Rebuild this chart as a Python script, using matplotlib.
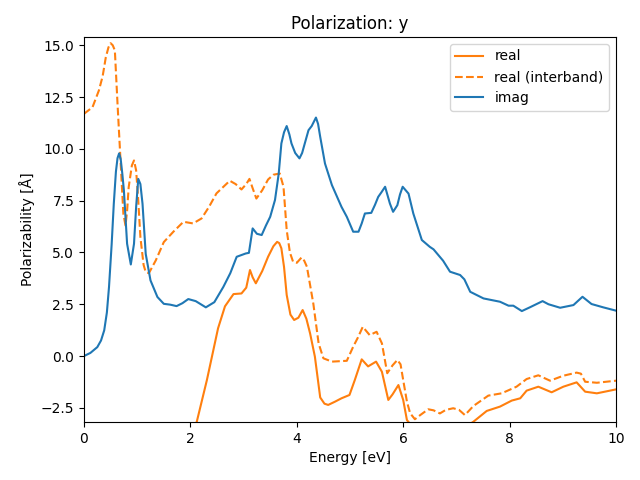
import matplotlib
matplotlib.use('Agg')
import matplotlib.pyplot as plt

# imaginary part
x_imag = [0, 0.12, 0.25, 0.32, 0.38, 0.43, 0.47, 0.52, 0.56, 0.60, 0.63, 0.66, 0.69, 0.72, 0.75,
          0.81, 0.88, 0.94, 0.98, 1.02, 1.06,
          1.10, 1.16, 1.25, 1.38, 1.50, 1.62, 1.74, 1.85, 1.96, 2.10, 2.29, 2.45, 2.62, 2.75, 2.87,
          3.04, 3.10, 3.17, 3.25, 3.34, 3.42, 3.50, 3.59, 3.66, 3.71, 3.76, 3.81, 3.86, 3.90, 3.97,
          4.05, 4.10, 4.15, 4.22, 4.28, 4.36, 4.40, 4.44, 4.53, 4.66, 4.84, 4.94, 5.06, 5.16, 5.22,
          5.28, 5.40, 5.47, 5.53, 5.59, 5.66, 5.75, 5.81, 5.89, 5.94, 5.99, 6.10, 6.19, 6.35, 6.50,
          6.57, 6.75, 6.88, 7.07, 7.15, 7.26, 7.51, 7.82, 7.98, 8.07, 8.23, 8.38, 8.62, 8.73, 8.95,
          9.20, 9.37, 9.54, 9.76, 10.0]
y_imag = [0, 0.15, 0.43, 0.75, 1.24, 2.1, 3.33, 5.4, 7.35, 8.9, 9.55, 9.78, 9.5, 8.8, 7.99,
          5.42, 4.42, 5.42, 7.2, 8.55, 8.3,
          7.35, 4.93, 3.65, 2.85, 2.52, 2.48, 2.41, 2.55, 2.75, 2.65, 2.35, 2.6, 3.34, 4.0, 4.79,
          4.95, 4.98, 6.16, 5.9, 5.84, 6.3, 6.72, 7.53, 8.8, 10.26, 10.8, 11.1, 10.7, 10.26, 9.8,
          9.54, 9.8, 10.26, 10.9, 11.1, 11.51, 11.2, 10.58, 9.29, 8.25, 7.2, 6.72, 6.0, 6.0, 6.4,
          6.88, 6.91, 7.3, 7.68, 7.9, 8.17, 7.36, 6.96, 7.28, 7.8, 8.17, 7.84, 6.88, 5.6, 5.27,
          5.15, 4.6, 4.07, 3.91, 3.7, 3.1, 2.78, 2.62, 2.43, 2.43, 2.17, 2.35, 2.65, 2.5, 2.33,
          2.46, 2.86, 2.51, 2.35, 2.19]

# real part (interband)
x_inter = [0, 0.16, 0.28, 0.35, 0.41, 0.46, 0.50, 0.54, 0.58, 0.63, 0.68, 0.74, 0.78, 0.81, 0.84,
           0.90, 0.94, 0.98, 1.02, 1.06, 1.12, 1.16, 1.22, 1.35, 1.50, 1.68, 1.87, 2.05, 2.21, 2.35,
           2.49, 2.74, 2.85, 2.96, 3.05, 3.11, 3.17, 3.24, 3.35, 3.46, 3.56, 3.68, 3.75, 3.81, 3.87,
           3.93, 4.0, 4.09, 4.14, 4.19, 4.31, 4.41, 4.50, 4.66, 4.94, 5.06, 5.15, 5.24, 5.37, 5.50,
           5.60, 5.70, 5.80, 5.89, 5.95, 6.0, 6.07, 6.13, 6.22, 6.32, 6.47, 6.57, 6.69, 6.80, 6.94,
           7.05, 7.16, 7.32, 7.60, 7.85, 8.13, 8.32, 8.54, 8.76, 9.01, 9.26, 9.34, 9.42, 9.64, 10.0]
y_inter = [11.69, 12.01, 12.82, 13.5, 14.42, 14.9, 15.1, 15.0, 14.75, 12.18, 9.76, 6.86, 6.30, 7.0, 8.15,
           9.2, 9.44, 8.96, 7.5, 5.74, 4.4, 4.05, 4.0, 4.62, 5.5, 6.0, 6.48, 6.4, 6.64, 7.2,
           7.85, 8.46, 8.3, 8.04, 8.3, 8.55, 8.1, 7.6, 8.0, 8.52, 8.75, 8.81, 8.17, 6.08, 5.0,
           4.55, 4.5, 4.76, 4.6, 4.31, 2.54, 0.61, -0.11, -0.27, -0.23, 0.45, 0.9, 1.41, 1.01, 1.17,
           0.61, -0.83, -0.45, -0.19, -0.4, -1.16, -2.2, -2.76, -3.05, -2.85, -2.57, -2.62, -2.77, -2.6, -2.52,
           -2.6, -2.85, -2.41, -1.91, -1.8, -1.48, -1.11, -0.93, -1.19, -0.95, -0.80, -0.85, -1.24, -1.29, -1.19]

# real part (full)
x_real = [0.05, 0.5, 1.0, 1.5, 1.9, 2.12, 2.31, 2.52, 2.65, 2.81, 2.96, 3.05, 3.12, 3.17, 3.23,
          3.35, 3.46, 3.56, 3.63, 3.67, 3.71, 3.76, 3.81, 3.88, 3.95, 4.03, 4.11, 4.18, 4.25, 4.34,
          4.44, 4.52, 4.59, 4.72, 4.84, 4.99, 5.09, 5.22, 5.34, 5.49, 5.60, 5.72, 5.80, 5.91, 6.0,
          6.07, 6.3, 6.7, 7.0, 7.32, 7.57, 7.82, 8.04, 8.20, 8.32, 8.54, 8.79, 9.01, 9.26, 9.42,
          9.64, 10.0]
y_real = [-40, -20, -12, -7, -4.5, -3.17, -1.16, 1.34, 2.4, 2.99, 3.02, 3.3, 4.15, 3.8, 3.51,
          4.1, 4.79, 5.3, 5.51, 5.45, 5.2, 4.3, 2.95, 2.0, 1.74, 1.85, 2.22, 1.8, 1.09, -0.03,
          -2.0, -2.3, -2.36, -2.2, -2.04, -1.88, -1.16, -0.16, -0.5, -0.27, -0.76, -2.12, -1.85, -1.40, -2.12,
          -3.09, -3.8, -4.0, -3.7, -3.17, -2.65, -2.44, -2.15, -2.04, -1.67, -1.48, -1.75, -1.48, -1.27, -1.72,
          -1.80, -1.61]

fig, ax = plt.subplots(figsize=(6.4, 4.8), dpi=100)
ax.plot(x_real, y_real, color='C1', label='real')
ax.plot(x_inter, y_inter, color='C1', ls='--', label='real (interband)')
ax.plot(x_imag, y_imag, color='C0', label='imag')
ax.set_xlim(0, 10)
ax.set_ylim(-3.18, 15.4)
ax.set_title('Polarization: y')
ax.set_xlabel('Energy [eV]')
ax.set_ylabel('Polarizability [Å]')
ax.legend(loc='upper right')
fig.subplots_adjust(left=0.13125, right=0.9625, top=0.923, bottom=0.121)
fig.savefig('out.png')
